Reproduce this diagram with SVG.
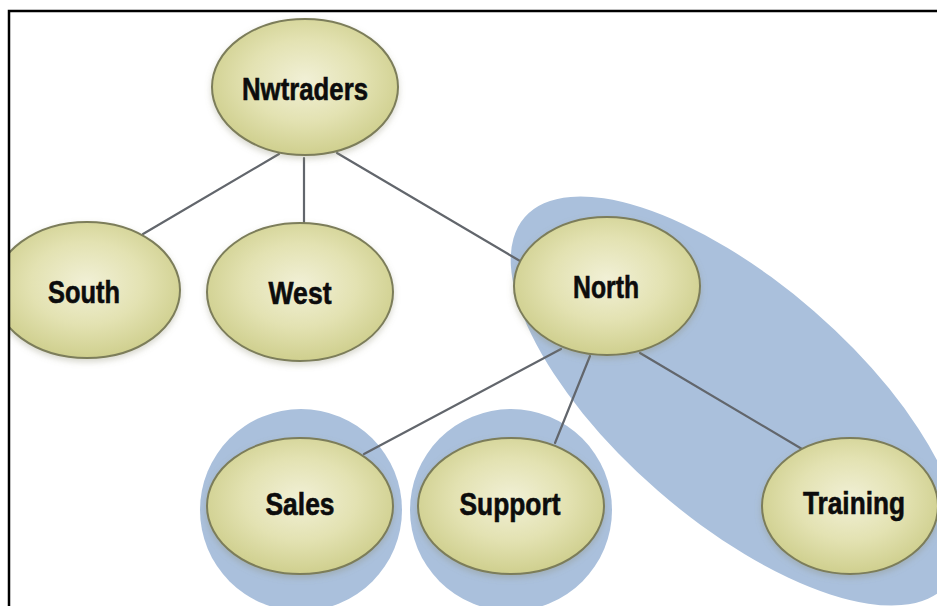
<svg xmlns="http://www.w3.org/2000/svg" width="937" height="606" viewBox="0 0 937 606">
  <style>
    .node { fill: url(#nodeFill); stroke: #7c7d5a; stroke-width: 2; filter: url(#shadow); }
    .halo { fill: #aac0dc; }
    .label { font-family: "Liberation Sans", Arial, sans-serif; font-weight: bold; font-size: 32px; fill: #0c0c0c; stroke: #0c0c0c; stroke-width: 0.6; text-anchor: middle; }
    .conn { stroke: #62666c; stroke-width: 2.2; fill: none; stroke-linecap: round; }
    .frame { stroke: #000; stroke-width: 2.5; fill: none; }
  </style>
  <defs>
    <radialGradient id="nodeFill" cx="0.5" cy="0.45" r="0.55">
      <stop offset="0" stop-color="#f1f0d6"/>
      <stop offset="0.55" stop-color="#e3e2b2"/>
      <stop offset="1" stop-color="#cfcf8e"/>
    </radialGradient>
    <filter id="shadow" x="-20%" y="-20%" width="140%" height="150%">
      <feDropShadow dx="0" dy="3" stdDeviation="3" flood-color="#8a8a70" flood-opacity="0.35"/>
    </filter>
    <clipPath id="frameClip">
      <rect x="9" y="11" width="928" height="595"/>
    </clipPath>
  </defs>
  <rect x="0" y="0" width="937" height="606" fill="#ffffff"/>

  <g clip-path="url(#frameClip)">
    <g id="groups">
      <ellipse id="group-north" class="halo" cx="736" cy="401" rx="280" ry="119" transform="rotate(41 736 401)"/>
      <circle id="group-sales" class="halo" cx="301" cy="510" r="101"/>
      <circle id="group-support" class="halo" cx="511" cy="510" r="101"/>
    </g>

    <g id="connectors">
      <line class="conn" x1="279" y1="154" x2="143" y2="234"/>
      <line class="conn" x1="304" y1="158" x2="304" y2="223"/>
      <line class="conn" x1="337" y1="153" x2="520" y2="261"/>
      <line class="conn" x1="561" y1="349" x2="364" y2="454"/>
      <line class="conn" x1="590" y1="356" x2="555" y2="443"/>
      <line class="conn" x1="640" y1="353" x2="802" y2="449"/>
    </g>

    <g id="node-nwtraders">
      <ellipse class="node" cx="305" cy="87" rx="93" ry="68"/>
      <text class="label" x="305" y="100" textLength="126" lengthAdjust="spacingAndGlyphs">Nwtraders</text>
    </g>
    <g id="node-south">
      <ellipse class="node" cx="87" cy="290" rx="93" ry="68"/>
      <text class="label" x="84" y="303" textLength="72" lengthAdjust="spacingAndGlyphs">South</text>
    </g>
    <g id="node-west">
      <ellipse class="node" cx="300" cy="292" rx="93" ry="69"/>
      <text class="label" x="300" y="304" textLength="63" lengthAdjust="spacingAndGlyphs">West</text>
    </g>
    <g id="node-north">
      <ellipse class="node" cx="607" cy="286" rx="93" ry="69"/>
      <text class="label" x="606" y="298" textLength="66" lengthAdjust="spacingAndGlyphs">North</text>
    </g>
    <g id="node-sales">
      <ellipse class="node" cx="300" cy="506" rx="93" ry="68"/>
      <text class="label" x="300" y="515" textLength="69" lengthAdjust="spacingAndGlyphs">Sales</text>
    </g>
    <g id="node-support">
      <ellipse class="node" cx="511" cy="506" rx="93" ry="68"/>
      <text class="label" x="510" y="515" textLength="101" lengthAdjust="spacingAndGlyphs">Support</text>
    </g>
    <g id="node-training">
      <ellipse class="node" cx="850" cy="506" rx="88" ry="68"/>
      <text class="label" x="854" y="514" textLength="102" lengthAdjust="spacingAndGlyphs">Training</text>
    </g>
  </g>

  <path class="frame" d="M9 606 V11 H937"/>
</svg>
